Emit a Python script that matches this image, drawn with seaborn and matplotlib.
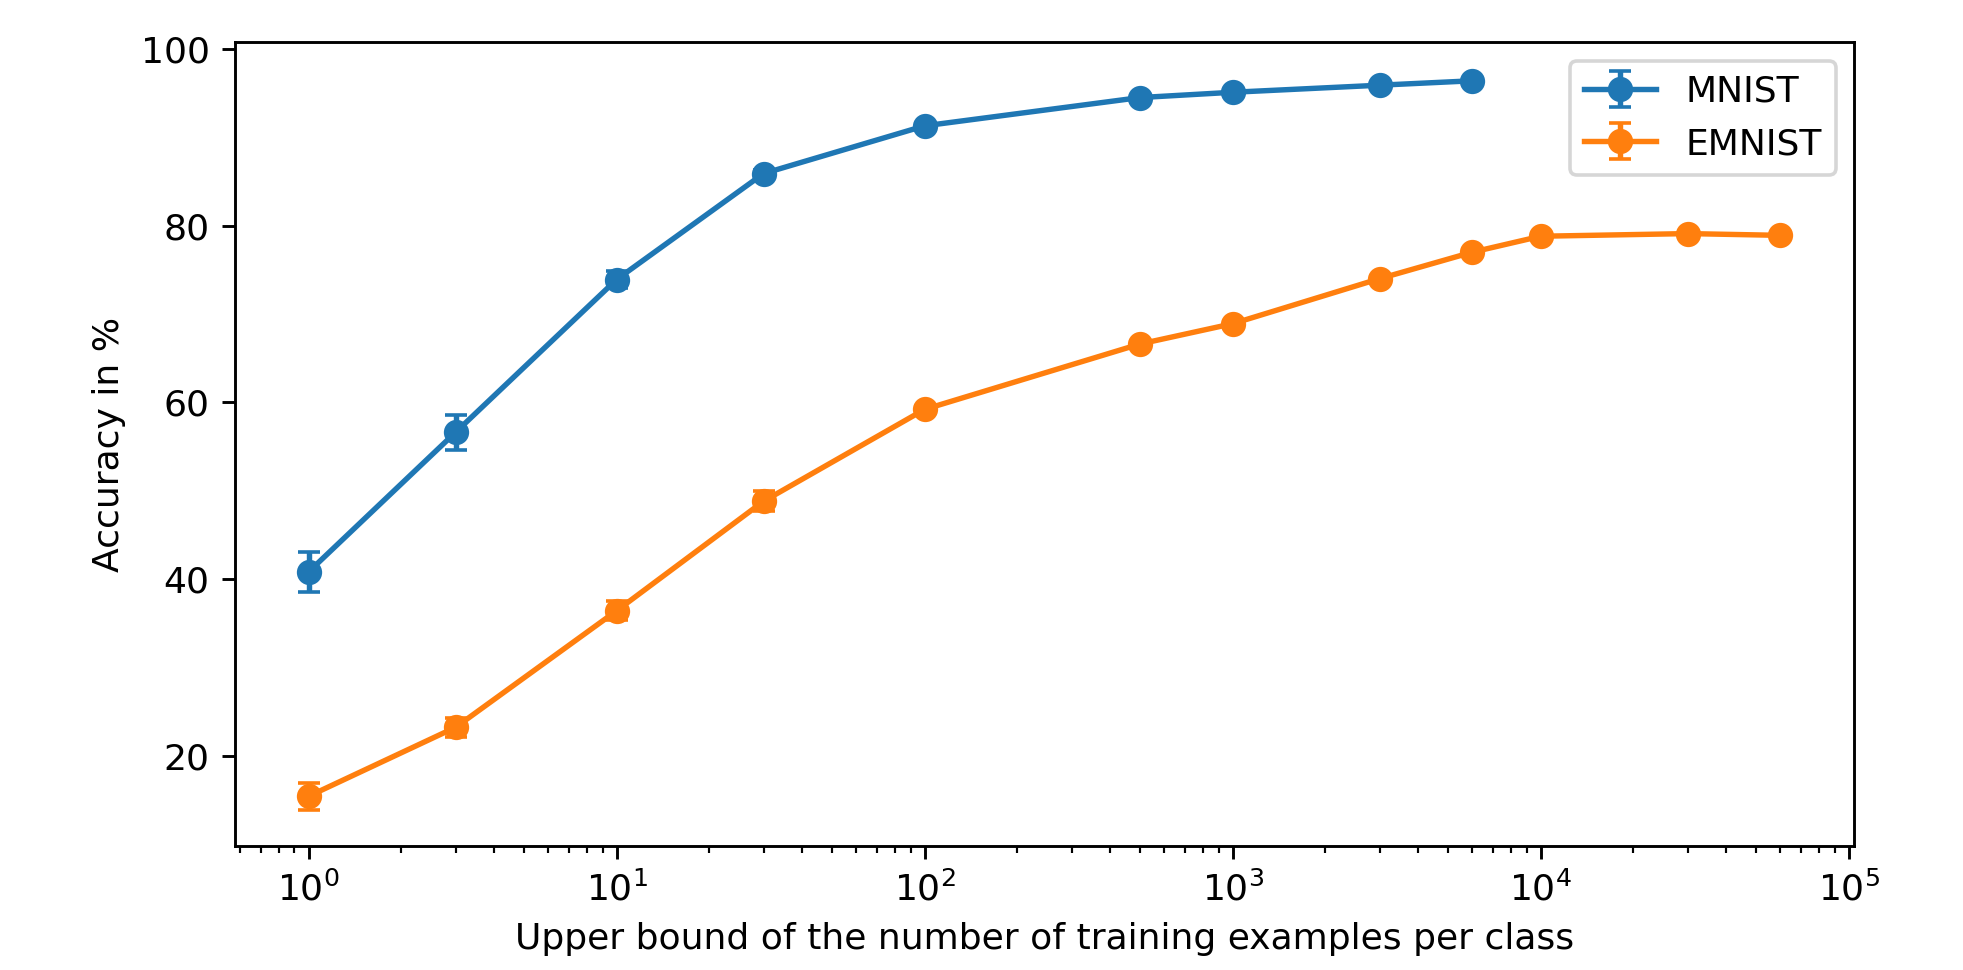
import numpy as np
import pandas as pd
import matplotlib
matplotlib.use("Agg")
import matplotlib.pyplot as plt
import seaborn as sns
from matplotlib.lines import Line2D
from matplotlib.legend_handler import HandlerTuple

# =====================================
# Data
# =====================================

mnist_n = [1, 3, 10, 30, 100, 500, 1000, 3000, 6000]
mnist_acc = [40.8, 56.6, 73.9, 85.9, 91.3, 94.5, 95.1, 95.9, 96.4]
mnist_err = [2.3, 2.0, 1.0, 0.4, 0.3, 0.2, 0.2, 0.2, 0.2]

emnist_n = [1, 3, 10, 30, 100, 500, 1000, 3000, 6000, 10000, 30000, 60000]
emnist_acc = [15.4, 23.2, 36.4, 48.8, 59.2, 66.6, 68.9, 74.0, 77.0, 78.8, 79.1, 78.9]
emnist_err = [1.5, 1.1, 1.1, 1.15, 0.4, 0.3, 0.3, 0.3, 0.3, 0.3, 0.3, 0.3]

series = [
    ("MNIST", mnist_n, mnist_acc, mnist_err, "#1f77b4"),
    ("EMNIST", emnist_n, emnist_acc, emnist_err, "#ff7f0e"),
]

# =====================================
# Plot
# =====================================

DPI = 260
fig = plt.figure(figsize=(1963 / DPI, 970 / DPI), dpi=DPI)
ax = fig.add_axes([0.1197, 0.1278, 0.8248, 0.8284])

leg_handles = []
for name, n, acc, err, color in series:
    df = pd.DataFrame({"n": n, "acc": acc})
    sns.lineplot(data=df, x="n", y="acc", color=color, marker="o",
                 markersize=6, markeredgewidth=1, markeredgecolor=color,
                 linewidth=1.5, legend=False, ax=ax, zorder=3)
    eb = ax.errorbar(n, acc, yerr=err, fmt="none", ecolor=color,
                     elinewidth=1.5, capsize=3, capthick=1, zorder=2)
    ln = Line2D([], [], color=color, marker="o", markersize=6, linewidth=1.5)
    leg_handles.append((eb, ln))

ax.set_xscale("log")
ax.set_xlabel("Upper bound of the number of training examples per class")
ax.set_ylabel("Accuracy in %")

ax.legend(leg_handles, [s[0] for s in series],
          handler_map={tuple: HandlerTuple(ndivide=1)}, loc="upper right")

fig.savefig("out.png", dpi=DPI)
